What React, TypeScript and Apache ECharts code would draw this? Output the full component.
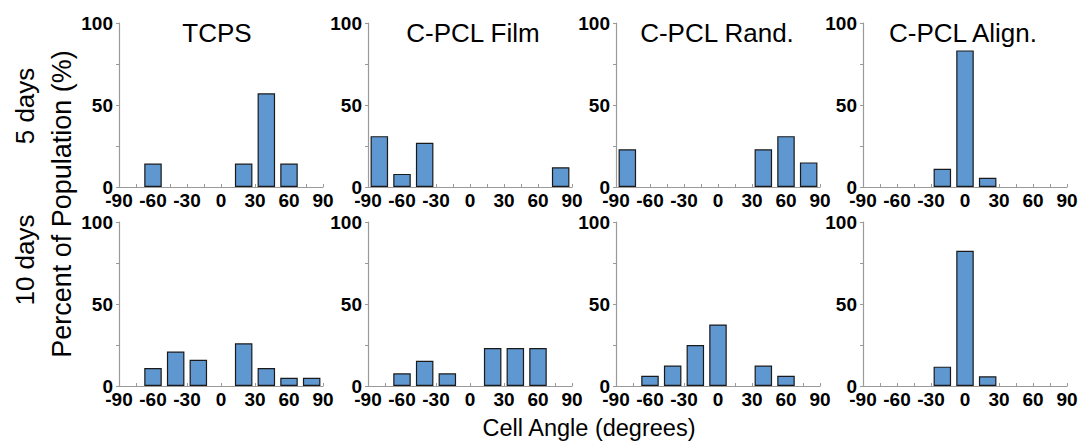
import React, { useEffect, useRef } from "react";
import * as echarts from "echarts";

const binCenters = [-80, -60, -40, -20, 0, 20, 40, 60, 80];
const panelTitles = ["TCPS", "C-PCL Film", "C-PCL Rand.", "C-PCL Align."];
const rowLabels = ["5 days", "10 days"];
const xTicks = [-90, -60, -30, 0, 30, 60, 90];
const yTicks = [0, 50, 100];

// 5 days
const tcps5 = [0, 14.3, 0, 0, 0, 14.3, 57.1, 14.3, 0];
const film5 = [31, 8, 27, 0, 0, 0, 0, 0, 12];
const rand5 = [23, 0, 0, 0, 0, 0, 23, 31, 15];
const align5 = [0, 0, 0, 11.1, 83.3, 5.6, 0, 0, 0];
// 10 days
const tcps10 = [0, 11, 21, 16, 0, 26, 11, 5, 5];
const film10 = [0, 7.7, 15.4, 7.7, 0, 23.1, 23.1, 23.1, 0];
const rand10 = [0, 6.25, 12.5, 25, 37.5, 0, 12.5, 6.25, 0];
const align10 = [0, 0, 0, 11.8, 82.4, 5.9, 0, 0, 0];

const rows = [
  [tcps5, film5, rand5, align5],
  [tcps10, film10, rand10, align10],
];

export default function App() {
  const ref = useRef<HTMLDivElement>(null);
  useEffect(() => {
    document.body.style.margin = "0";
    const chart = echarts.init(ref.current!, null, { renderer: "svg" });
    const lefts = [119, 368, 616, 863];
    const tops = [23, 222];
    const gw = 204;
    const gh = 164;
    const grids: any[] = [];
    const xAxes: any[] = [];
    const yAxes: any[] = [];
    const series: any[] = [];
    const axisColor = "#9a9a9a";
    const tickFont = {
      fontFamily: "Liberation Sans, Arial, sans-serif",
      fontWeight: "bold",
      fontSize: 19,
      color: "#000",
    };
    let idx = 0;
    rows.forEach((row, r) => {
      row.forEach((vals, c) => {
        grids.push({ left: lefts[c], top: tops[r], width: gw, height: gh });
        xAxes.push({
          type: "value",
          gridIndex: idx,
          min: xTicks[0],
          max: xTicks[xTicks.length - 1],
          interval: 30,
          axisLine: { show: true, onZero: false, lineStyle: { color: axisColor, width: 1.2 } },
          axisTick: { show: true, inside: true, length: 3, lineStyle: { color: axisColor } },
          minorTick: { show: true, splitNumber: 2, length: 3, lineStyle: { color: axisColor } },
          splitLine: { show: false },
          axisLabel: { ...tickFont, margin: 4, showMinLabel: true, showMaxLabel: true },
        });
        yAxes.push({
          type: "value",
          gridIndex: idx,
          min: yTicks[0],
          max: yTicks[yTicks.length - 1],
          interval: 50,
          axisLine: { show: true, onZero: false, lineStyle: { color: axisColor, width: 1.2 } },
          axisTick: { show: true, inside: false, length: 3, lineStyle: { color: axisColor } },
          minorTick: { show: true, splitNumber: 2, length: 3, lineStyle: { color: axisColor } },
          splitLine: { show: false },
          axisLabel: { ...tickFont, margin: 6 },
        });
        series.push({
          type: "bar",
          xAxisIndex: idx,
          yAxisIndex: idx,
          barWidth: 17.5,
          data: binCenters.map((x, i) => [x, vals[i]]).filter((d) => d[1] > 0),
          itemStyle: { color: "#5f97d0", borderColor: "#1a1a1a", borderWidth: 1.2 },
        });
        idx++;
      });
    });
    const titleCenters = [217, 473, 717, 963];
    const textFont = "Liberation Sans, Arial, sans-serif";
    const graphic: any[] = [];
    panelTitles.forEach((t, i) => {
      graphic.push({
        type: "text",
        x: titleCenters[i],
        y: 33,
        style: { text: t, font: `26px ${textFont}`, fill: "#000", textAlign: "center", textVerticalAlign: "middle" },
      });
    });
    const rowCenters = [106, 260];
    rowLabels.forEach((t, i) => {
      graphic.push({
        type: "text",
        x: 25,
        y: rowCenters[i],
        rotation: Math.PI / 2,
        style: { text: t, font: `26px ${textFont}`, fill: "#000", textAlign: "center", textVerticalAlign: "middle" },
      });
    });
    graphic.push({
      type: "text",
      x: 62,
      y: 204,
      rotation: Math.PI / 2,
      style: { text: "Percent of Population (%)", font: `27px ${textFont}`, fill: "#000", textAlign: "center", textVerticalAlign: "middle" },
    });
    graphic.push({
      type: "text",
      x: 589,
      y: 428,
      style: { text: "Cell Angle (degrees)", font: `23.5px ${textFont}`, fill: "#000", textAlign: "center", textVerticalAlign: "middle" },
    });
    chart.setOption({
      animation: false,
      backgroundColor: "#fff",
      grid: grids,
      xAxis: xAxes,
      yAxis: yAxes,
      series,
      graphic,
    });
    return () => chart.dispose();
  }, []);
  return <div ref={ref} style={{ width: 1081, height: 441 }} />;
}
